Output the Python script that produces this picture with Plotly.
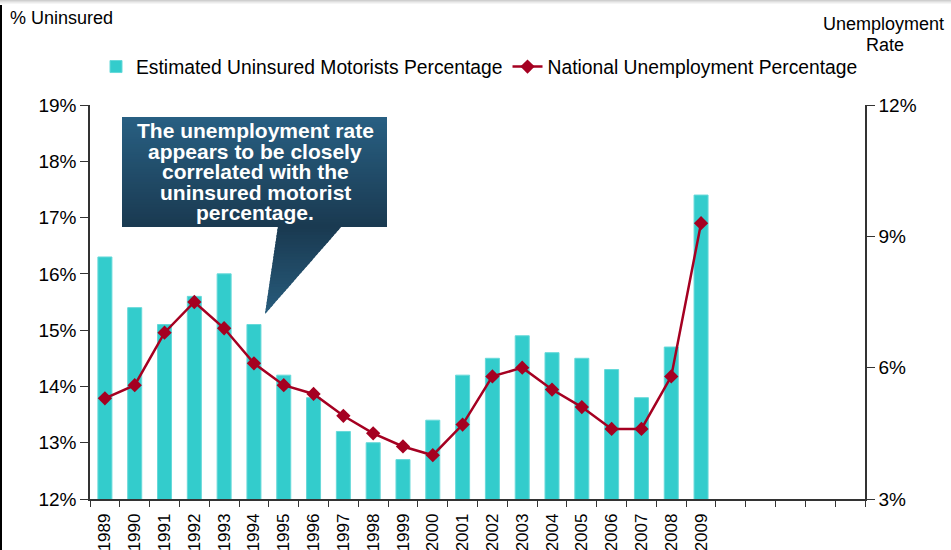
import plotly.graph_objects as go

years = list(range(1989, 2010))
slot_count = 26  # 1989..2014 category slots drawn on the axis

uninsured = [16.3, 15.4, 15.1, 15.6, 16.0, 15.1, 14.2, 13.8, 13.2, 13.0, 12.7,
             13.4, 14.2, 14.5, 14.9, 14.6, 14.5, 14.3, 13.8, 14.7, 17.4]
unemployment = [5.3, 5.6, 6.8, 7.5, 6.9, 6.1, 5.6, 5.4, 4.9, 4.5, 4.2,
                4.0, 4.7, 5.8, 6.0, 5.5, 5.1, 4.6, 4.6, 5.8, 9.3]

callout_lines = ["The unemployment rate", "appears to be closely",
                 "correlated with the", "uninsured motorist", "percentage."]

W, H = 951, 550
L, R, T, B = 90, 865, 105, 499
FONT = "Liberation Sans, Arial, sans-serif"


def px(x):
    return (x - L) / (R - L)


def py(y):
    return (B - y) / (B - T)


def lerp_color(c1, c2, t):
    a = [int(c1[i:i + 2], 16) for i in (1, 3, 5)]
    b = [int(c2[i:i + 2], 16) for i in (1, 3, 5)]
    return "#" + "".join(f"{round(a[i] + (b[i] - a[i]) * t):02x}" for i in range(3))


x_lo = years[0] - 0.5
x_hi = years[0] + slot_count - 0.5

fig = go.Figure()
fig.add_trace(go.Bar(
    x=years, y=uninsured, name="Estimated Uninsured Motorists Percentage",
    marker=dict(color="#33CCCC", line=dict(color="#66D9D9", width=1)),
    xaxis="x", yaxis="y"))
fig.add_trace(go.Scatter(
    x=years, y=unemployment, name="National Unemployment Percentage",
    mode="lines+markers", line=dict(color="#A50021", width=2.5),
    marker=dict(symbol="diamond", size=11, color="#A50021"),
    xaxis="x", yaxis="y2"))

shapes = []
# callout box gradient
bx0, bx1, by0, by1 = 122, 387, 117, 227
n = 44
for i in range(n):
    y0 = by0 + (by1 - by0) * i / n
    y1 = min(by1, by0 + (by1 - by0) * (i + 1) / n + 1.5)
    col = lerp_color("#285F82", "#1A3A51", i / (n - 1))
    shapes.append(dict(type="rect", xref="paper", yref="paper",
                       x0=px(bx0), x1=px(bx1), y0=py(y1), y1=py(y0),
                       fillcolor=col, line=dict(width=0), layer="above"))
# pointer gradient
tl, tr, tip = (278, 226), (342, 226), (265, 314)
m = 29
for i in range(m):
    f0, f1 = i / m, min(1, (i + 1) / m + 0.02)
    def edge(p, f):
        return (p[0] + (tip[0] - p[0]) * f, p[1] + (tip[1] - p[1]) * f)
    a0, a1 = edge(tl, f0), edge(tl, f1)
    b0, b1 = edge(tr, f0), edge(tr, f1)
    path = (f"M {px(a0[0])},{py(a0[1])} L {px(b0[0])},{py(b0[1])} "
            f"L {px(b1[0])},{py(b1[1])} L {px(a1[0])},{py(a1[1])} Z")
    col = lerp_color("#1A3A51", "#275B7B", i / (m - 1))
    shapes.append(dict(type="path", xref="paper", yref="paper", path=path,
                       fillcolor=col, line=dict(width=0), layer="above"))
# page decorations: top shadow band and left border
for i, c in enumerate(["#cfcfcf", "#dedede", "#ebebeb", "#f5f5f5"]):
    shapes.append(dict(type="rect", xref="paper", yref="paper",
                       x0=px(0), x1=px(W), y0=py(i + 1), y1=py(i),
                       fillcolor=c, line=dict(width=0), layer="below"))
shapes.append(dict(type="line", xref="paper", yref="paper",
                   x0=px(1), x1=px(1), y0=py(5), y1=py(H),
                   line=dict(color="#000000", width=2)))

annotations = []
line_y = [130, 151, 171, 192, 212]
for txt, yy in zip(callout_lines, line_y):
    annotations.append(dict(text=f"<b>{txt}</b>", xref="paper", yref="paper",
                            x=px(255), y=py(yy), xanchor="center", yanchor="middle",
                            showarrow=False,
                            font=dict(family=FONT, size=21, color="#ffffff")))
annotations.append(dict(text="% Uninsured", xref="paper", yref="paper",
                        x=px(8), y=py(18), xanchor="left", yanchor="middle",
                        showarrow=False, font=dict(family=FONT, size=18, color="#000000")))
annotations.append(dict(text="Unemployment", xref="paper", yref="paper",
                        x=px(946), y=py(24), xanchor="right", yanchor="middle",
                        showarrow=False, font=dict(family=FONT, size=18, color="#000000")))
annotations.append(dict(text="Rate", xref="paper", yref="paper",
                        x=px(885), y=py(45), xanchor="center", yanchor="middle",
                        showarrow=False, font=dict(family=FONT, size=18, color="#000000")))

axis_col = "#333333"
fig.update_layout(
    width=W, height=H,
    margin=dict(l=L, r=W - R, t=T, b=H - B, autoexpand=False),
    paper_bgcolor="#ffffff", plot_bgcolor="#ffffff",
    font=dict(family=FONT, color="#000000"),
    bargap=0.53,
    showlegend=True,
    legend=dict(orientation="h", x=px(96), y=py(67), xanchor="left", yanchor="middle",
                font=dict(family=FONT, size=19.3, color="#000000"),
                bgcolor="rgba(0,0,0,0)", itemwidth=30, traceorder="normal"),
    xaxis=dict(type="linear", range=[x_lo, x_hi],
               tickmode="array", tickvals=years, ticktext=[str(y) for y in years],
               tickangle=-90, tickfont=dict(family=FONT, size=17, color="#000000"),
               ticks="outside", ticklen=6, tickwidth=1.3, tickcolor="rgba(0,0,0,0)",
               minor=dict(tick0=x_lo, dtick=1, ticks="outside", ticklen=6,
                          tickwidth=1.3, tickcolor=axis_col, showgrid=False),
               showline=True, linecolor=axis_col, linewidth=1.5,
               showgrid=False, zeroline=False, automargin=False),
    yaxis=dict(range=[12, 19], dtick=1, tick0=12, ticksuffix="%",
               ticks="outside", ticklen=8, tickwidth=1.3, tickcolor=axis_col,
               tickfont=dict(family=FONT, size=19, color="#000000"),
               showline=True, linecolor=axis_col, linewidth=1.5,
               showgrid=False, zeroline=False, automargin=False),
    yaxis2=dict(range=[3, 12], dtick=3, tick0=3, ticksuffix="%",
                overlaying="y", side="right", anchor="x",
                ticks="outside", ticklen=8, tickwidth=1.3, tickcolor=axis_col,
                tickfont=dict(family=FONT, size=19, color="#000000"),
                showline=True, linecolor=axis_col, linewidth=1.5,
                showgrid=False, zeroline=False, automargin=False),
    shapes=shapes,
    annotations=annotations,
)

fig.write_html("out.html")
